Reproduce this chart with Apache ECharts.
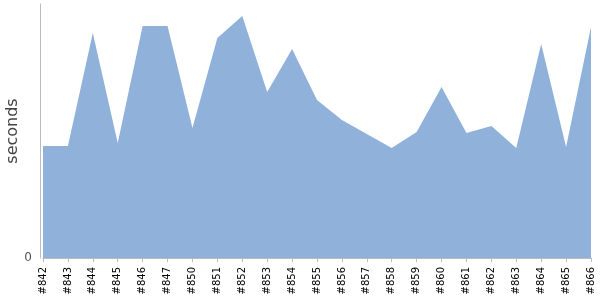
<!DOCTYPE html>
<html><head><meta charset="utf-8">
<script src="https://cdn.jsdelivr.net/npm/echarts@6/dist/echarts.min.js"></script>
<style>html,body{margin:0;padding:0;background:#fff}#c{width:600px;height:300px}</style>
</head><body><div id="c"></div>
<script>
const categories = ['#842','#843','#844','#845','#846','#847','#850','#851','#852','#853','#854','#855','#856','#857','#858','#859','#860','#861','#862','#863','#864','#865','#866'];
const seconds = [112,112,225,115,232,232,130,220,242,166,209,158,138,124,110,126,171,125,132,110,214,111,231];
const yTickLabels = ['0'];

const chart = echarts.init(document.getElementById('c'), null, {renderer:'canvas'});
chart.setOption({
  animation:false,
  grid:{left:43,right:9,top:4,bottom:42,containLabel:false,outerBoundsMode:'none'},
  xAxis:{
    type:'category', data:categories, boundaryGap:false, offset:3,
    axisLine:{lineStyle:{color:'#bbbbbb'}},
    axisTick:{show:true,alignWithLabel:true,length:4,lineStyle:{color:'#bbbbbb'}},
    axisLabel:{rotate:90,interval:0,fontSize:10,color:'#000',fontFamily:'DejaVu Sans',margin:6}
  },
  yAxis:{
    type:'value', min:0, max:254, interval:254, offset:3,
    name:'seconds', nameLocation:'middle', nameGap:19, nameMoveOverlap:false,
    nameTextStyle:{fontSize:16,color:'#444',fontFamily:'DejaVu Sans'},
    axisLine:{show:true,lineStyle:{color:'#bbbbbb'}},
    axisTick:{show:false},
    splitLine:{show:false},
    axisLabel:{fontSize:12,color:'#555',fontFamily:'DejaVu Sans',margin:8,
      formatter:function(v){return v===0?yTickLabels[0]:'';}}
  },
  series:[{
    type:'line', data:seconds, symbol:'none',
    lineStyle:{width:0},
    areaStyle:{color:'#8fb1da',opacity:1}
  }]
});
</script></body></html>
